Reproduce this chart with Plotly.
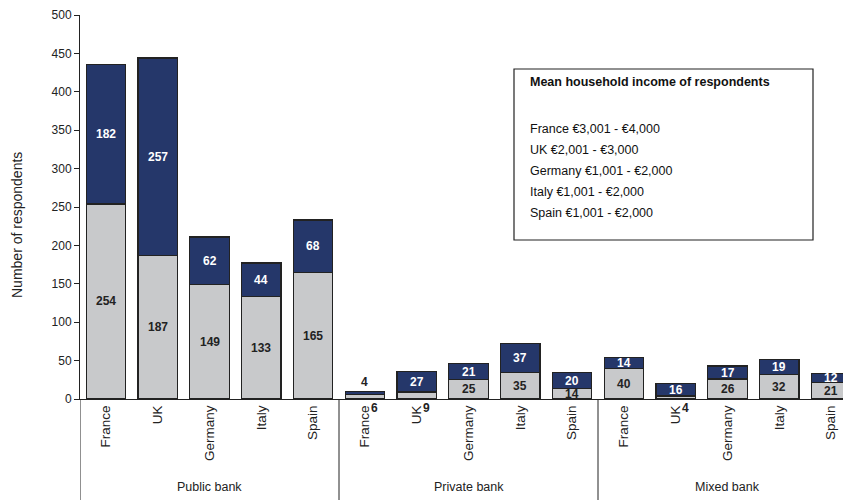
import plotly.graph_objects as go

countries = ["France", "UK", "Germany", "Italy", "Spain"]
groups = ["Public bank", "Private bank", "Mixed bank"]
gray_vals = [254, 187, 149, 133, 165, 6, 9, 25, 35, 14, 40, 4, 26, 32, 21]
navy_vals = [182, 257, 62, 44, 68, 4, 27, 21, 37, 20, 14, 16, 17, 19, 12]
y_ticks = [0, 50, 100, 150, 200, 250, 300, 350, 400, 450, 500]
box_title = "Mean household income of respondents"
box_lines = ["France €3,001 - €4,000", "UK €2,001 - €3,000", "Germany €1,001 - €2,000",
             "Italy €1,001 - €2,000", "Spain €1,001 - €2,000"]

W, H = 843, 500
L, R, T, B = 80, 0, 15, 101
pw, ph = W - L - R, H - T - B
cat_w = 51.8
x_end = -0.5 + pw / cat_w

def px_x(px):
    return (px - L) / pw

def px_y(py):
    return (H - B - py) / ph

NAVY = "#25376a"
GRAY = "#c8c9cb"
FONT = "Liberation Sans, Arial, sans-serif"
TXT = "#222222"

xs = list(range(len(gray_vals)))
xlabels = countries * len(groups)

fig = go.Figure()
fig.add_trace(go.Bar(x=xs, y=gray_vals, marker=dict(color=GRAY, line=dict(color=TXT, width=1.2)),
                     width=0.76, hoverinfo="skip"))
fig.add_trace(go.Bar(x=xs, y=navy_vals, marker=dict(color=NAVY, line=dict(color=TXT, width=1.2)),
                     width=0.76, hoverinfo="skip"))

annotations = []
lab_font_dark = dict(size=12, color=TXT, family=FONT)
lab_font_white = dict(size=12, color="white", family=FONT)
for i, (g, n) in enumerate(zip(gray_vals, navy_vals)):
    if g < 10:
        annotations.append(dict(x=i, y=0, xref="x", yref="y", text=f"<b>{g}</b>", showarrow=False,
                                xanchor="center", yanchor="middle",
                                xshift=10, yshift=-9, font=lab_font_dark))
    else:
        annotations.append(dict(x=i, y=g / 2, xref="x", yref="y", text=f"<b>{g}</b>", showarrow=False,
                                xanchor="center", yanchor="middle", font=lab_font_dark))
    if g + n < 12:
        annotations.append(dict(x=i, y=g + n, xref="x", yref="y", text=f"<b>{n}</b>", showarrow=False,
                                xanchor="center", yanchor="middle", yshift=9, font=lab_font_dark))
    else:
        annotations.append(dict(x=i, y=g + n / 2, xref="x", yref="y", text=f"<b>{n}</b>", showarrow=False,
                                xanchor="center", yanchor="middle", font=lab_font_white))

for k, gname in enumerate(groups):
    annotations.append(dict(x=k * 5 + 2, y=px_y(487), xref="x", yref="paper", text=gname, showarrow=False,
                            xanchor="center", yanchor="middle",
                            font=dict(size=12.5, color=TXT, family=FONT)))

annotations.append(dict(x=px_x(17), y=px_y(225), xref="paper", yref="paper", text="Number of respondents",
                        textangle=-90, showarrow=False, xanchor="center", yanchor="middle",
                        font=dict(size=14, color=TXT, family=FONT)))

annotations.append(dict(x=px_x(528), y=px_y(82), xref="paper", yref="paper", text=f"<b>{box_title}</b>",
                        xanchor="left", yanchor="middle", showarrow=False,
                        font=dict(size=12.5, color="#111111", family=FONT)))
for j, line in enumerate(box_lines):
    annotations.append(dict(x=px_x(528), y=px_y(129 + 21 * j), xref="paper", yref="paper", text=line,
                            xanchor="left", yanchor="middle", showarrow=False,
                            font=dict(size=12.5, color="#111111", family=FONT)))

shapes = []
for k in range(len(groups)):
    sx = k * 5 - 0.5
    shapes.append(dict(type="line", x0=sx, x1=sx, xref="x", y0=0, y1=px_y(H), yref="paper",
                       line=dict(color=TXT, width=1)))
shapes.append(dict(type="rect", xref="paper", yref="paper", x0=px_x(514), x1=px_x(813),
                   y0=px_y(69), y1=px_y(240), line=dict(color=TXT, width=1.2), fillcolor="white"))

fig.update_layout(
    barmode="stack",
    width=W, height=H,
    margin=dict(l=L, r=R, t=T, b=B),
    plot_bgcolor="white", paper_bgcolor="white",
    showlegend=False,
    font=dict(family=FONT, size=12, color=TXT),
    annotations=annotations,
    shapes=shapes,
)
fig.update_xaxes(range=[-0.5, x_end], tickmode="array", tickvals=xs, ticktext=xlabels,
                 tickangle=-90, showgrid=False, zeroline=False, showline=True, linecolor=TXT,
                 linewidth=1, ticks="", tickfont=dict(size=13.5, family=FONT, color=TXT))
fig.update_yaxes(range=[0, 500], tickmode="array", tickvals=y_ticks, showgrid=False, zeroline=False,
                 showline=True, linecolor=TXT, linewidth=1, ticks="outside", ticklen=5,
                 tickcolor=TXT, tickfont=dict(size=12, family=FONT, color=TXT))

fig.write_html("out.html")
